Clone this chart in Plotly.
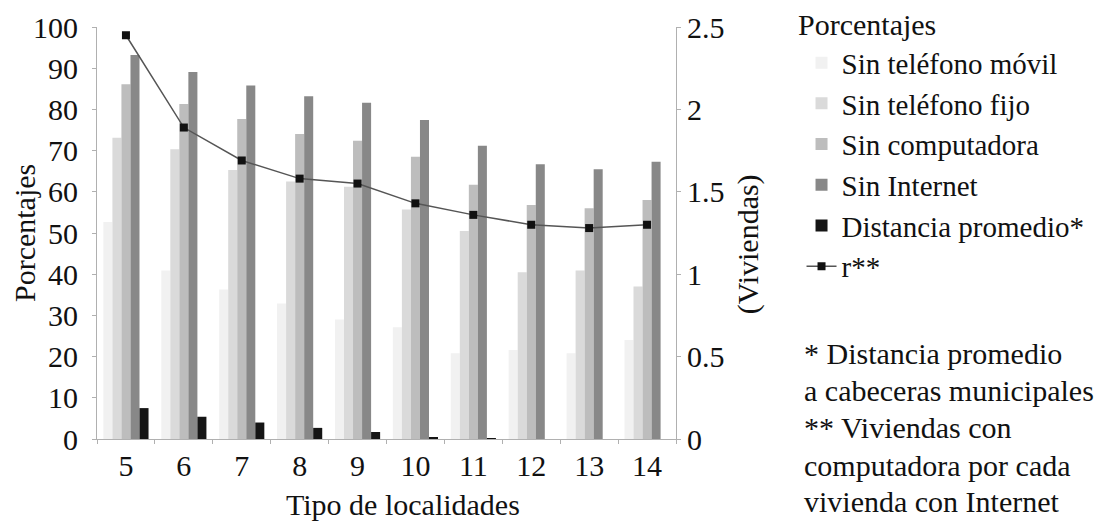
import plotly.graph_objects as go

categorias = ["5", "6", "7", "8", "9", "10", "11", "12", "13", "14"]
sin_movil = [52.7, 40.9, 36.3, 32.9, 29.0, 27.1, 20.8, 21.6, 20.8, 24.0]
sin_fijo = [73.1, 70.3, 65.3, 62.5, 61.2, 55.7, 50.5, 40.5, 40.9, 37.0]
sin_computadora = [86.1, 81.3, 77.7, 74.0, 72.4, 68.5, 61.7, 56.8, 56.0, 58.0]
sin_internet = [93.2, 89.1, 85.8, 83.2, 81.6, 77.4, 71.2, 66.7, 65.5, 67.3]
distancia = [7.5, 5.4, 4.0, 2.7, 1.7, 0.3, 0.2, 0.0, 0.0, 0.0]
r_viviendas = [2.45, 1.89, 1.69, 1.58, 1.55, 1.43, 1.36, 1.30, 1.28, 1.30]

nota_lineas = ["* Distancia promedio", "a cabeceras municipales", "** Viviendas con",
               "computadora por cada", "vivienda con Internet"]

FONT = "'Liberation Serif', 'Times New Roman', serif"
FS = 30

def f(size=FS):
    return dict(family=FONT, size=size, color="#111111")

fig = go.Figure()
series = [
    ("Sin teléfono móvil", sin_movil, "#f1f1f1"),
    ("Sin teléfono fijo", sin_fijo, "#dadada"),
    ("Sin computadora", sin_computadora, "#bdbdbd"),
    ("Sin Internet", sin_internet, "#888888"),
    ("Distancia promedio*", distancia, "#151515"),
]
for name, vals, col in series:
    fig.add_trace(go.Bar(x=categorias, y=vals, name=name, marker_color=col,
                         marker_line_width=0, yaxis="y"))

fig.add_trace(go.Scatter(x=categorias, y=r_viviendas, name="r**", yaxis="y2",
                         mode="lines+markers",
                         line=dict(color="#555555", width=1.5),
                         marker=dict(symbol="square", size=8, color="#111111")))

annotations = [
    dict(xref="paper", yref="paper", x=1.208, y=1.005,
         xanchor="left", yanchor="middle", showarrow=False,
         text="Porcentajes", font=f()),
    dict(xref="paper", yref="paper", x=0.5285, y=-0.160,
         xanchor="center", yanchor="middle", showarrow=False,
         text="Tipo de localidades", font=f()),
    dict(xref="paper", yref="paper", x=-0.126, y=0.5,
         xanchor="center", yanchor="middle", showarrow=False, textangle=-90,
         text="Porcentajes", font=f()),
    dict(xref="paper", yref="paper", x=1.1245, y=0.473,
         xanchor="center", yanchor="middle", showarrow=False, textangle=-90,
         text="(Viviendas)", font=f()),
]
nota_y = [353, 390, 427, 465, 501]
for txt, py in zip(nota_lineas, nota_y):
    annotations.append(dict(
        xref="paper", yref="paper", x=1.2168, y=(439 - py) / 412,
        xanchor="left", yanchor="middle", align="left", showarrow=False,
        text=txt, font=f(),
    ))

fig.update_layout(
    template="none",
    width=1119, height=523,
    margin=dict(l=97, r=443, t=27, b=84),
    paper_bgcolor="white", plot_bgcolor="white",
    font=f(),
    barmode="group", bargap=0.22, bargroupgap=0,
    showlegend=True,
    legend=dict(
        x=1.2168, xanchor="left", y=0.975, yanchor="top",
        font=f(29), tracegroupgap=0, itemwidth=30,
        bgcolor="rgba(0,0,0,0)", maxheight=600,
    ),
    xaxis=dict(
        type="category", automargin=False, range=[-0.5, 9.5],
        tickfont=f(),
        showline=True, linecolor="#b0b0b0", linewidth=1,
        ticks="outside", ticklen=4, tickcolor="#b0b0b0", tickson="boundaries",
        showgrid=False,
    ),
    yaxis=dict(
        automargin=False,
        tickfont=f(), ticklabelstandoff=8,
        range=[0, 100], dtick=10,
        showline=True, linecolor="#b0b0b0", linewidth=1,
        ticks="outside", ticklen=4, tickcolor="#b0b0b0",
        showgrid=False, zeroline=False,
    ),
    yaxis2=dict(
        automargin=False,
        tickfont=f(),
        range=[0, 2.5], dtick=0.5, overlaying="y", side="right",
        showline=True, linecolor="#b0b0b0", linewidth=1,
        ticks="outside", ticklen=4, tickcolor="#b0b0b0",
        showgrid=False, zeroline=False,
    ),
    annotations=annotations,
)

fig.write_html(
    "out.html",
    config={"displayModeBar": False},
    post_script="document.body.style.margin='0';document.body.style.padding='0';",
)
